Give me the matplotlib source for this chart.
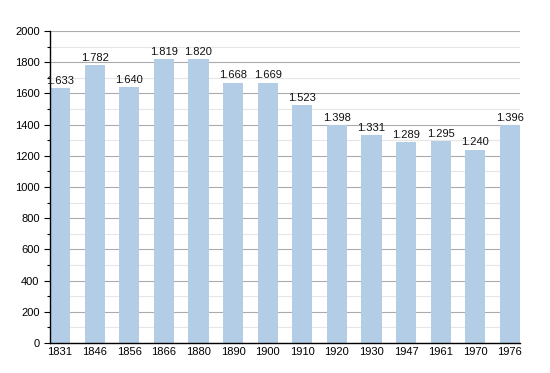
import matplotlib
matplotlib.use("Agg")
import matplotlib.pyplot as plt
from matplotlib.ticker import MultipleLocator

plt.rcParams['font.family'] = ['Liberation Sans', 'DejaVu Sans']

years = ['1831', '1846', '1856', '1866', '1880', '1890', '1900',
         '1910', '1920', '1930', '1947', '1961', '1970', '1976']
population = [1633, 1782, 1640, 1819, 1820, 1668, 1669,
              1523, 1398, 1331, 1289, 1295, 1240, 1396]
labels = ['1.633', '1.782', '1.640', '1.819', '1.820', '1.668', '1.669',
          '1.523', '1.398', '1.331', '1.289', '1.295', '1.240', '1.396']

fig = plt.figure(figsize=(5.5, 3.73), dpi=100)
ax = fig.add_axes([50/550, 1-343/373, 470/550, 312/373])

x = range(len(years))
bars = ax.bar(x, population, width=0.58, color='#b4cde6', zorder=2)
for xi, v, lab in zip(x, population, labels):
    ax.text(xi, v + 15, lab, ha='center', va='bottom', fontsize=8, color='#111111')

ax.set_xlim(-0.29, 13.29)
ax.set_ylim(0, 2000)
ax.yaxis.set_major_locator(MultipleLocator(200))
ax.yaxis.set_minor_locator(MultipleLocator(100))
ax.grid(axis='y', which='major', color='#ababab', linewidth=0.8, zorder=0)
ax.grid(axis='y', which='minor', color='#e6e6e6', linewidth=0.8, zorder=0)
ax.set_xticks(list(x))
ax.set_xticklabels(years)
ax.tick_params(axis='x', length=0, labelsize=8, pad=3)
ax.tick_params(axis='y', which='major', length=4, labelsize=8, width=0.8)
ax.tick_params(axis='y', which='minor', length=2, width=0.8)
for s in ['top', 'right']:
    ax.spines[s].set_visible(False)
ax.spines['left'].set_linewidth(1)
ax.spines['bottom'].set_linewidth(1)

fig.savefig('out.png', dpi=100)
